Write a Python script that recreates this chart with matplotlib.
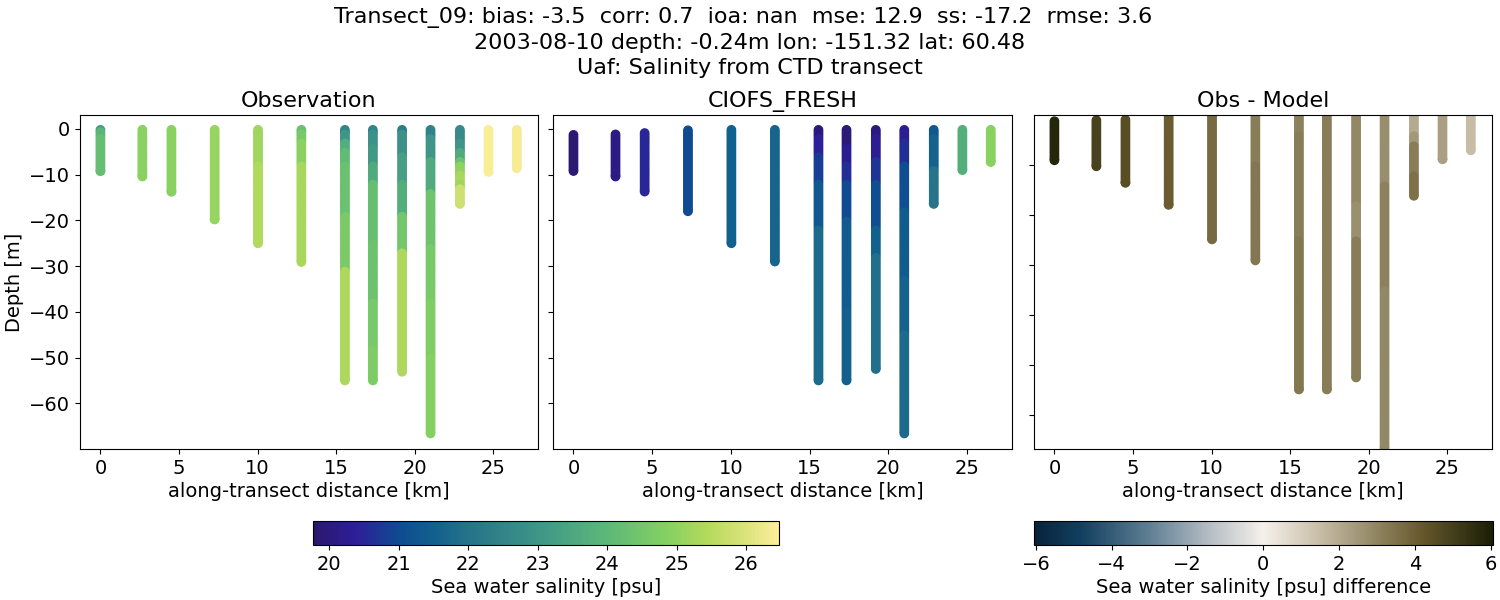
"""
Salinity along a CTD transect: observation, model and their difference.
Values per station are read off the picture as depth bands.
"""

import numpy as np
import matplotlib
matplotlib.use("Agg")
import matplotlib.pyplot as plt
from matplotlib.cm import ScalarMappable
from matplotlib.colors import LinearSegmentedColormap, Normalize

# Configuration
BIN_SPACING = 0.5  # m between CTD bins

# Station positions along the transect [km]
DISTANCE = [0.0, 2.67, 4.52, 7.27, 10.03, 12.79, 15.56, 17.34, 19.2, 21.01, 22.88, 24.7, 26.5]

# Shallowest bin of each station [m]
OBS_TOP = [-0.2, -0.2, -0.2, -0.2, -0.2, -0.2, -0.2, -0.2, -0.2, -0.2, -0.2, -0.2, -0.2]
MODEL_TOP = [-1.3, -1.2, -0.9, -0.3, -0.2, -0.2, -0.2, -0.2, -0.2, -0.2, -0.2, -0.2, -0.2]
DIFF_TOP = [-1.2, -1.0, -0.9, -0.3, -0.2, -0.2, -0.2, -0.2, -0.2, -0.2, -0.2, -0.2, -0.2]

# Lower edge of each depth band [m] and salinity inside that band [psu]
OBS_BOTTOM = [
    [-0.5, -2, -9.2], [-10.4], [-13.7], [-19.8], [-8, -25], [-1, -3, -8, -29.1],
    [-1, -3, -5, -8, -19, -31, -55], [-1, -4, -8, -12, -25, -38, -48, -55],
    [-1, -6, -12, -19, -27, -53.1], [-2, -7, -14, -26, -38, -50, -66.6],
    [-3, -5, -7, -8, -10, -12, -13, -16.4], [-9.4], [-8.6],
]
OBS_SALINITY = [
    [23.2, 23.9, 24.2], [24.9], [24.9], [25.1], [25.2, 25.4], [24.3, 24.6, 24.95, 25.3],
    [22.5, 23.0, 23.7, 24.1, 24.3, 24.65, 25.35], [22.5, 22.9, 23.1, 23.6, 24.2, 24.35, 24.6, 24.7],
    [22.3, 22.9, 23.3, 23.7, 24.5, 25.35], [22.45, 23.0, 23.6, 24.4, 24.6, 24.75, 24.85],
    [22.7, 23.0, 23.6, 24.3, 25.0, 25.3, 25.2, 25.8], [26.4], [26.35],
]
MODEL_BOTTOM = [
    [-9.2], [-10.4], [-13.7], [-18.0], [-25.0], [-29.0],
    [-2, -6, -12, -22, -55], [-4, -8, -12, -20, -40, -55],
    [-2, -7, -12, -22, -28, -52.5], [-3, -8, -18, -33, -45, -66.6],
    [-2, -9, -16.4], [-9.0], [-7.2],
]
MODEL_SALINITY = [
    [19.85], [20.1], [20.5], [21.0], [21.5], [21.65],
    [20.0, 20.4, 20.8, 21.3, 21.8], [19.95, 20.3, 20.6, 21.0, 21.4, 21.5],
    [20.0, 20.3, 20.7, 21.1, 21.5, 21.9], [20.3, 20.6, 21.1, 21.4, 21.6, 21.8],
    [21.3, 21.6, 22.0], [23.7], [24.9],
]
DIFF_BOTTOM = [
    [-9.0], [-10.2], [-13.5], [-17.9], [-24.8], [-10, -29.0],
    [-4, -25, -54.8], [-54.8],
    [-18, -25, -52.4], [-14, -35, -66.6],
    [-4, -6, -12, -16.1], [-8.8], [-7.0],
]
DIFF_VALUES = [
    [5.8], [4.9], [4.5], [4.1], [3.7], [3.2, 3.4],
    [3.1, 3.2, 3.35], [3.2],
    [2.9, 2.7, 3.2], [2.75, 3.1, 2.9],
    [2.0, 2.5, 3.2, 3.5], [2.3], [1.5],
]

SALINITY_RANGE = (19.77, 26.47)
DIFF_RANGE = (-6.05, 6.05)

SALINITY_TICKS = [20, 21, 22, 23, 24, 25, 26]
DIFF_TICKS = [-6, -4, -2, 0, 2, 4, 6]
DISTANCE_TICKS = [0, 5, 10, 15, 20, 25]
DEPTH_TICKS = [0, -10, -20, -30, -40, -50, -60]
DIFF_DEPTH_TICKS = [-10, -20, -30, -40, -50, -60]

# cmocean is not installed, so rebuild haline and diff by hand
haline = LinearSegmentedColormap.from_list("haline", [
    (0.00, "#2a186c"), (0.09, "#2e1e98"), (0.18, "#0f4a92"), (0.26, "#12608e"),
    (0.33, "#25728a"), (0.48, "#3e9488"), (0.63, "#5cb878"), (0.76, "#84d062"),
    (0.85, "#b5da5c"), (0.93, "#dbe37c"), (1.00, "#fdee99"),
])
diff = LinearSegmentedColormap.from_list("diff", [
    (0.00, "#08233a"), (0.10, "#113f5f"), (0.25, "#5f7e93"), (0.38, "#b4bcc3"),
    (0.50, "#f5f0eb"), (0.62, "#c9bfa9"), (0.75, "#8f8460"), (0.85, "#66562b"),
    (0.93, "#3c3a18"), (1.00, "#1c1e06"),
])


def expand_station(top, bottoms, values):
    """Turn one station's depth bands into bin depths and values."""
    depths = []
    readings = []
    upper = top
    for lower, value in zip(bottoms, values):
        bins = np.arange(upper, lower - 0.01, -BIN_SPACING)
        if len(bins) == 0:
            bins = np.array([lower])
        depths.extend(bins)
        readings.extend([value] * len(bins))
        upper = bins[-1] - BIN_SPACING
    depths.append(bottoms[-1])
    readings.append(values[-1])
    return depths, readings


def plot_transect(ax, tops, bottoms, values, cmap, norm):
    for x, top, bottom, value in zip(DISTANCE, tops, bottoms, values):
        depths, readings = expand_station(top, bottom, value)
        ax.scatter([x] * len(depths), depths, c=readings, cmap=cmap, norm=norm, s=36)
    ax.set_xlim(-1.3, 27.85)
    ax.set_xticks(DISTANCE_TICKS)
    ax.tick_params(labelsize=14)
    ax.set_xlabel("along-transect distance [km]", fontsize=14, labelpad=3)


def main():
    fig = plt.figure(figsize=(15, 6), dpi=100)
    ax_obs = fig.add_axes([80 / 1500, 1 - 449 / 600, 458 / 1500, 334 / 600])
    ax_model = fig.add_axes([553 / 1500, 1 - 449 / 600, 459 / 1500, 334 / 600])
    ax_diff = fig.add_axes([1034 / 1500, 1 - 449 / 600, 458 / 1500, 334 / 600])

    salinity_norm = Normalize(*SALINITY_RANGE)
    diff_norm = Normalize(*DIFF_RANGE)

    plot_transect(ax_obs, OBS_TOP, OBS_BOTTOM, OBS_SALINITY, haline, salinity_norm)
    plot_transect(ax_model, MODEL_TOP, MODEL_BOTTOM, MODEL_SALINITY, haline, salinity_norm)
    plot_transect(ax_diff, DIFF_TOP, DIFF_BOTTOM, DIFF_VALUES, diff, diff_norm)

    ax_obs.set_ylim(-70, 3.05)
    ax_obs.set_yticks(DEPTH_TICKS)
    ax_obs.set_ylabel("Depth [m]", fontsize=14, labelpad=4)
    ax_model.set_ylim(-70, 3.05)
    ax_model.set_yticks(DEPTH_TICKS)
    ax_model.set_yticklabels([])
    ax_diff.set_ylim(-66.7, 0.05)
    ax_diff.set_yticks(DIFF_DEPTH_TICKS)
    ax_diff.set_yticklabels([])

    ax_obs.set_title("Observation", fontsize=16)
    ax_model.set_title("CIOFS_FRESH", fontsize=16)
    ax_diff.set_title("Obs - Model", fontsize=16)

    fig.suptitle(
        "Transect_09: bias: -3.5  corr: 0.7  ioa: nan  mse: 12.9  ss: -17.2  rmse: 3.6  \n"
        "2003-08-10 depth: -0.24m lon: -151.32 lat: 60.48\n"
        "Uaf: Salinity from CTD transect",
        fontsize=16, x=0.5, y=0.9875, va="top", linespacing=1.3,
    )

    # Colorbars
    cax_salinity = fig.add_axes([313 / 1500, 1 - 545 / 600, 466 / 1500, 24 / 600])
    cbar = fig.colorbar(ScalarMappable(salinity_norm, haline), cax=cax_salinity, orientation="horizontal")
    cbar.set_ticks(SALINITY_TICKS)
    cbar.ax.tick_params(labelsize=14)
    cbar.set_label("Sea water salinity [psu]", fontsize=14, labelpad=3)

    cax_diff = fig.add_axes([1034 / 1500, 1 - 545 / 600, 458.5 / 1500, 24 / 600])
    cbar = fig.colorbar(ScalarMappable(diff_norm, diff), cax=cax_diff, orientation="horizontal")
    cbar.set_ticks(DIFF_TICKS)
    cbar.ax.tick_params(labelsize=14)
    cbar.set_label("Sea water salinity [psu] difference", fontsize=14, labelpad=3)

    fig.savefig("out.png", dpi=100)


if __name__ == "__main__":
    main()
